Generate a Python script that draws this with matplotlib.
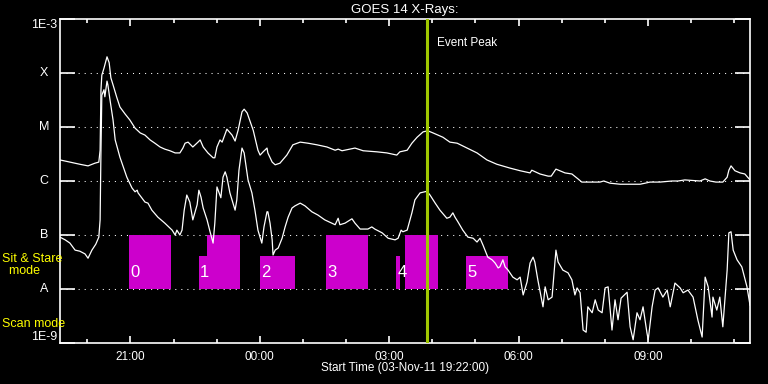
import numpy as np
import matplotlib
matplotlib.use("Agg")
import matplotlib.pyplot as plt
from matplotlib.patches import Rectangle
from matplotlib.ticker import FixedLocator, NullLocator, NullFormatter

plt.rcParams['font.family'] = ['Liberation Sans', 'DejaVu Sans']

START_HOUR = 19 + 22 / 60.0   # 03-Nov-11 19:22:00
END_HOURS = 16.0

# GOES 14 long channel: hours since start, log10 flux (W/m^2)
t_long = [0.00, 0.23, 0.46, 0.65, 0.81, 0.90, 0.93, 0.95, 0.97, 1.02, 1.09, 1.14, 1.18, 1.23,
          1.32, 1.39, 1.51, 1.62, 1.74, 1.86, 1.97, 2.09, 2.20, 2.32, 2.43, 2.55, 2.67, 2.78,
          2.85, 2.90, 2.97, 3.08, 3.20, 3.25, 3.32, 3.43, 3.55, 3.59, 3.64, 3.71, 3.76, 3.87,
          3.99, 4.06, 4.13, 4.22, 4.27, 4.34, 4.48, 4.59, 4.64, 4.71, 4.80, 4.82, 4.92, 4.99,
          5.10, 5.26, 5.40, 5.57, 5.75, 5.96, 6.19, 6.38, 6.45, 6.54, 6.84, 7.03, 7.35, 7.58,
          7.81, 7.88, 8.05, 8.16, 8.28, 8.42, 8.53, 8.65, 8.88, 9.04, 9.21, 9.44, 9.67, 9.90,
          10.13, 10.43, 10.67, 10.90, 10.94, 11.13, 11.32, 11.39, 11.50, 11.59, 11.71, 11.87,
          12.01, 12.10, 12.29, 12.52, 12.61, 12.75, 12.99, 13.22, 13.45, 13.57, 13.68, 13.91,
          14.19, 14.33, 14.49, 14.84, 14.96, 15.07, 15.21, 15.37, 15.47, 15.51, 15.56, 15.65,
          15.77, 15.88, 16.00]
lf_long = [-5.61, -5.65, -5.69, -5.72, -5.67, -5.65, -5.43, -4.31, -4.04, -3.91, -3.70, -3.81,
           -4.09, -4.22, -4.46, -4.63, -4.76, -4.87, -5.02, -5.11, -5.15, -5.24, -5.30, -5.37,
           -5.41, -5.44, -5.48, -5.48, -5.39, -5.30, -5.28, -5.37, -5.28, -5.24, -5.37, -5.48,
           -5.57, -5.57, -5.37, -5.24, -5.28, -5.04, -5.15, -5.26, -5.06, -4.72, -4.67, -4.74,
           -5.06, -5.43, -5.52, -5.46, -5.39, -5.48, -5.65, -5.70, -5.67, -5.52, -5.33, -5.28,
           -5.30, -5.33, -5.37, -5.43, -5.41, -5.44, -5.39, -5.44, -5.46, -5.48, -5.52, -5.46,
           -5.43, -5.30, -5.19, -5.09, -5.07, -5.11, -5.19, -5.28, -5.30, -5.39, -5.48, -5.61,
           -5.69, -5.76, -5.81, -5.85, -5.80, -5.87, -5.91, -5.91, -5.78, -5.81, -5.85, -5.87,
           -5.96, -6.02, -6.02, -6.02, -6.00, -6.04, -6.06, -6.06, -6.06, -6.04, -6.02, -6.02,
           -6.00, -6.00, -5.98, -6.00, -5.96, -6.00, -6.02, -6.02, -5.93, -5.80, -5.72, -5.81,
           -5.85, -5.87, -5.98]

# GOES 14 short channel: hours since start, log10 flux (W/m^2)
t_short = [0.00, 0.12, 0.23, 0.35, 0.46, 0.58, 0.65, 0.74, 0.83, 0.90, 0.93, 0.95, 0.97, 1.02,
           1.04, 1.09, 1.11, 1.16, 1.23, 1.28, 1.39, 1.55, 1.67, 1.74, 1.79, 1.81, 1.97, 2.04,
           2.13, 2.27, 2.43, 2.60, 2.67, 2.71, 2.78, 2.83, 2.88, 2.94, 3.01, 3.08, 3.18, 3.22,
           3.27, 3.32, 3.41, 3.48, 3.55, 3.59, 3.64, 3.69, 3.73, 3.78, 3.83, 3.87, 3.94, 4.06,
           4.10, 4.15, 4.22, 4.27, 4.36, 4.45, 4.52, 4.59, 4.68, 4.73, 4.80, 4.82, 4.87, 4.92,
           4.94, 4.99, 5.06, 5.15, 5.22, 5.29, 5.38, 5.45, 5.57, 5.68, 5.84, 5.98, 6.14, 6.38,
           6.45, 6.49, 6.61, 6.77, 6.84, 6.96, 7.14, 7.23, 7.30, 7.47, 7.61, 7.77, 7.84, 7.91,
           7.95, 8.05, 8.16, 8.23, 8.35, 8.51, 8.58, 8.70, 8.81, 8.97, 9.04, 9.11, 9.16, 9.23,
           9.34, 9.46, 9.58, 9.67, 9.74, 9.81, 9.92, 10.02, 10.09, 10.16, 10.20, 10.27, 10.32,
           10.39, 10.50, 10.60, 10.67, 10.74, 10.83, 10.90, 10.97, 11.01, 11.08, 11.20, 11.25,
           11.32, 11.41, 11.50, 11.55, 11.66, 11.78, 11.87, 11.94, 11.99, 12.06, 12.13, 12.20,
           12.24, 12.34, 12.41, 12.48, 12.57, 12.64, 12.71, 12.80, 12.87, 12.94, 13.01, 13.15,
           13.22, 13.29, 13.38, 13.45, 13.52, 13.61, 13.64, 13.73, 13.80, 13.87, 13.98, 14.08,
           14.15, 14.26, 14.38, 14.45, 14.56, 14.68, 14.79, 14.89, 14.96, 15.03, 15.12, 15.14,
           15.23, 15.30, 15.37, 15.47, 15.51, 15.56, 15.61, 15.70, 15.81, 15.93, 16.00]
lf_short = [-7.04, -7.09, -7.15, -7.28, -7.30, -7.35, -7.43, -7.28, -7.17, -7.04, -6.72, -5.43,
            -4.41, -4.31, -4.44, -4.15, -4.22, -4.50, -4.87, -5.24, -5.56, -5.93, -6.13, -6.20,
            -6.17, -6.22, -6.39, -6.41, -6.54, -6.67, -6.78, -6.91, -7.00, -6.91, -7.00, -6.91,
            -6.54, -6.26, -6.39, -6.72, -6.44, -6.17, -6.30, -6.50, -6.72, -6.94, -7.15, -6.78,
            -6.11, -6.22, -6.31, -5.93, -5.83, -5.93, -6.22, -6.54, -6.35, -5.80, -5.39, -5.48,
            -5.98, -6.22, -6.54, -6.91, -7.15, -6.85, -6.57, -6.57, -6.78, -7.09, -7.37, -7.28,
            -7.24, -7.06, -6.85, -6.67, -6.50, -6.46, -6.41, -6.46, -6.57, -6.63, -6.72, -6.81,
            -6.69, -6.81, -6.78, -6.70, -6.78, -6.89, -6.89, -6.85, -6.89, -6.96, -7.06, -7.09,
            -7.06, -6.91, -6.94, -6.91, -6.59, -6.35, -6.22, -6.19, -6.26, -6.41, -6.54, -6.69,
            -6.67, -6.59, -6.67, -6.76, -6.91, -7.04, -7.06, -7.13, -7.06, -7.19, -7.41, -7.46,
            -7.52, -7.61, -7.59, -7.46, -7.59, -7.65, -7.78, -7.83, -7.78, -8.11, -7.87, -7.52,
            -7.41, -7.50, -7.83, -8.33, -7.96, -8.20, -8.15, -7.28, -7.50, -7.65, -7.70, -7.83,
            -8.11, -7.98, -8.07, -8.76, -8.80, -8.33, -8.44, -8.20, -8.39, -8.44, -7.98, -7.96,
            -8.76, -8.20, -8.57, -8.17, -8.06, -8.70, -8.94, -8.44, -8.57, -8.33, -8.81, -8.94,
            -8.33, -8.02, -7.98, -8.15, -8.02, -8.33, -7.89, -7.98, -8.07, -8.02, -8.15, -8.57,
            -8.89, -7.78, -7.96, -8.52, -8.15, -8.39, -8.15, -8.70, -7.65, -6.96, -6.94, -7.28,
            -7.46, -7.59, -7.96, -8.30]

# Observation (sit & stare) segments: start, end (hours since start), top flux
seg_start = [1.60, 3.22, 3.41, 4.64, 6.17, 7.79, 8.00, 9.41]
seg_end = [2.57, 3.41, 4.17, 5.45, 7.14, 7.88, 8.77, 10.39]
seg_top = [1e-7, 4.1e-8, 1e-7, 4.1e-8, 1e-7, 4.1e-8, 1e-7, 4.1e-8]
seg_bottom = 1e-8
label_start = [1.60, 3.22, 4.64, 6.17, 7.79, 9.41]
label_text = ['0', '1', '2', '3', '4', '5']
event_peak = 8.51

ytick_vals = [1e-9, 1e-8, 1e-7, 1e-6, 1e-5, 1e-4, 1e-3]
ytick_text = ['1E-9', 'A', 'B', 'C', 'M', 'X', '1E-3']
xmajor_clock = [21, 24, 27, 30, 33]
xmajor_text = ['21:00', '00:00', '03:00', '06:00', '09:00']

W = 'white'
MAG = '#cc00cc'
EVT = '#a0c800'
YEL = '#ffff00'

fig = plt.figure(figsize=(7.68, 3.84), dpi=100, facecolor='black')
ax = fig.add_axes([60 / 768, 1 - 343 / 384, 690 / 768, 324 / 384], facecolor='black')
ax.set_yscale('log')
ax.set_xlim(0, END_HOURS)
ax.set_ylim(1e-9, 1e-3)

for s, e, top in zip(seg_start, seg_end, seg_top):
    ax.add_patch(Rectangle((s, seg_bottom), e - s, top - seg_bottom, facecolor=MAG,
                           edgecolor='none', zorder=1))
for s, lab in zip(label_start, label_text):
    ax.text(s + 0.03, 2.05e-8, lab, color=W, fontsize=12, ha='left', va='center', zorder=3)

for v in ytick_vals[1:-1]:
    ax.axhline(v, color=W, lw=0.75, linestyle=(0, (1, 4.8)), zorder=0.5)

ax.plot(t_long, 10 ** np.array(lf_long), color=W, lw=0.9, zorder=2)
ax.plot(t_short, 10 ** np.array(lf_short), color=W, lw=0.9, zorder=2)

ax.axvline(event_peak, color=EVT, lw=2.2, zorder=4)
ax.text(event_peak + 0.23, 10 ** (-3.45), 'Event Peak', color=W, fontsize=8.5,
        ha='left', va='center')

for sp in ax.spines.values():
    sp.set_color(W)
    sp.set_linewidth(1.2)

# y ticks
ax.yaxis.set_major_locator(FixedLocator(ytick_vals))
ax.yaxis.set_minor_locator(NullLocator())
ax.yaxis.set_major_formatter(NullFormatter())
ax.yaxis.set_minor_formatter(NullFormatter())
ax.tick_params(axis='y', which='major', direction='in', length=11, width=1.2, color=W,
               left=True, right=True)
ytr = ax.get_yaxis_transform()
for v, lab in zip(ytick_vals, ytick_text):
    va = 'center'
    if v == ytick_vals[0]:
        va = 'bottom'
    elif v == ytick_vals[-1]:
        va = 'top'
    ax.text(-16 / 690, v, lab, transform=ytr, color=W, fontsize=9, ha='center', va=va,
            clip_on=False)

# x ticks
major_pos = [c - START_HOUR for c in xmajor_clock]
minor_pos = [h - START_HOUR for h in range(20, 36) if (h - 21) % 3 != 0]
ax.xaxis.set_major_locator(FixedLocator(major_pos))
ax.xaxis.set_minor_locator(FixedLocator(minor_pos))
ax.set_xticklabels(xmajor_text)
ax.tick_params(axis='x', which='major', direction='in', length=5, width=1.2, color=W,
               labelcolor=W, labelsize=8.5, pad=6, top=True, bottom=True)
ax.tick_params(axis='x', which='minor', direction='in', length=3, width=1.2, color=W,
               top=True, bottom=True)

fig.text(405 / 768, 1 - 9.5 / 384, 'GOES 14 X-Rays:', color=W, fontsize=9.5,
         ha='center', va='center')
fig.text(405 / 768, 1 - 368 / 384, 'Start Time (03-Nov-11 19:22:00)', color=W,
         fontsize=8.5, ha='center', va='center')
fig.text(2 / 768, 1 - 259 / 384, 'Sit & Stare', color=YEL, fontsize=9, ha='left',
         va='center', zorder=0)
fig.text(2 / 768, 1 - 271 / 384, '  mode', color=YEL, fontsize=9, ha='left', va='center')
fig.text(2 / 768, 1 - 324 / 384, 'Scan mode', color=YEL, fontsize=9, ha='left', va='center')

fig.savefig('out.png', dpi=100, facecolor='black')
